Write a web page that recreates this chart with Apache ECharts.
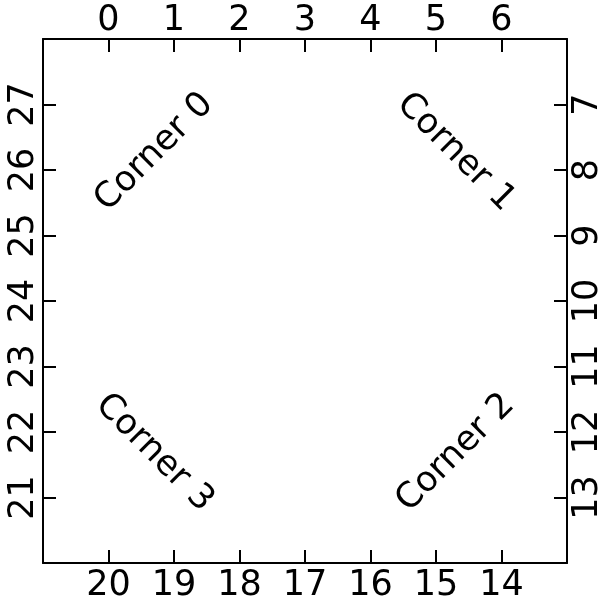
<!DOCTYPE html>
<html><head><meta charset="utf-8">
<script src="https://cdn.jsdelivr.net/npm/echarts@6/dist/echarts.min.js"></script>
<style>html,body{margin:0;padding:0;background:#fff}#c{width:600px;height:603px}</style>
</head><body><div id="c"></div>
<script>
const topTicks = [0, 1, 2, 3, 4, 5, 6];
const bottomTicks = [20, 19, 18, 17, 16, 15, 14];
const leftTicks = [21, 22, 23, 24, 25, 26, 27];
const rightTicks = [7, 8, 9, 10, 11, 12, 13];
const cornerLabels = ['Corner 0', 'Corner 1', 'Corner 2', 'Corner 3'];
const cornerX = [0.7, 5.3, 5.3, 0.7];
const cornerY = [26.27, 26.27, 21.68, 21.68];
const cornerRot = [45, -45, 45, -45];

const FONT = 'DejaVu Sans';
const FS = 35;
function axisCommon(ticks, rotate, margin) {
  return {
    type: 'value',
    interval: 1,
    splitLine: { show: false },
    axisLine: { show: true, onZero: false, lineStyle: { color: '#000', width: 2 } },
    axisTick: { show: true, inside: true, length: 13, lineStyle: { color: '#000', width: 2 }, customValues: ticks },
    axisLabel: { show: true, color: '#000', fontFamily: FONT, fontSize: FS, margin: margin, rotate: rotate || 0, customValues: ticks }
  };
}
const chart = echarts.init(document.getElementById('c'), null, { renderer: 'canvas' });
const xTop = Object.assign(axisCommon(topTicks, 0, 1), { position: 'top', min: -1, max: 7 });
const xBot = Object.assign(axisCommon(bottomTicks, 0, 5), { position: 'bottom', min: 13, max: 21, inverse: true });
const yLeft = Object.assign(axisCommon(leftTicks, 90, 2), { position: 'left', min: 20, max: 28 });
const yRight = Object.assign(axisCommon(rightTicks, 90, 3), { position: 'right', min: 6, max: 14, inverse: true });
chart.setOption({
  animation: false,
  backgroundColor: '#fff',
  grid: { left: 43, right: 33, top: 39, bottom: 40, containLabel: false, outerBoundsMode: 'none' },
  xAxis: [xTop, xBot],
  yAxis: [yLeft, yRight],
  series: [{
    type: 'scatter',
    xAxisIndex: 0, yAxisIndex: 0,
    symbolSize: 0,
    itemStyle: { opacity: 1 },
    label: { show: true, position: 'inside', color: '#000', fontFamily: FONT, fontSize: FS, opacity: 1 },
    data: cornerLabels.map((t, i) => ({
      value: [cornerX[i], cornerY[i]],
      label: { formatter: t, rotate: cornerRot[i], align: 'center', verticalAlign: 'middle',
        color: '#000', fontFamily: FONT, fontSize: FS }
    }))
  }]
});
</script></body></html>
